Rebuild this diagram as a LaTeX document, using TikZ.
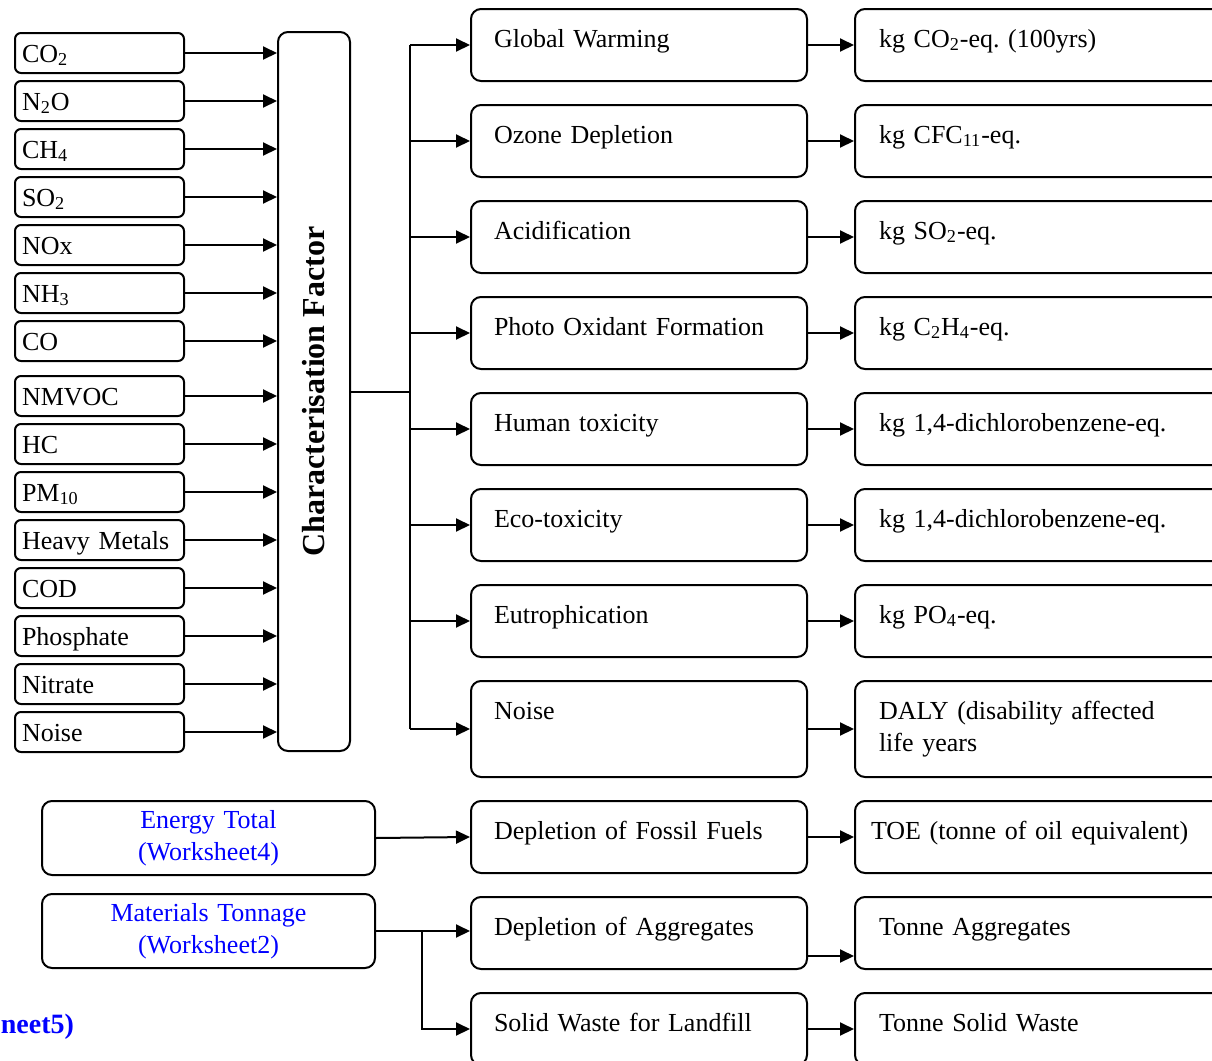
\documentclass[tikz,border=0pt]{standalone}
\usepackage{fontspec}
\setmainfont{Liberation Serif}
\usetikzlibrary{arrows.meta}
\frenchspacing
\begin{document}
\begin{tikzpicture}[
    x=0.5pt,y=-0.5pt,line width=1pt,
    every node/.style={font=\fontsize{13pt}{16pt}\selectfont},
    arr/.style={-{Triangle[length=7pt,width=6.5pt]}},
    gas/.style={draw,rounded corners=3pt,anchor=north west,
        text width=77.5pt,inner xsep=3.5pt,inner ysep=0pt,
        text height=14.5pt,text depth=5.5pt,align=left},
    impact/.style={draw,rounded corners=5pt,anchor=north west,
        text width=145pt,inner xsep=11.5pt,inner ysep=0pt,
        text height=19pt,text depth=17pt,align=left},
    unit/.style={impact,text width=165pt,inner xsep=12pt},
    source/.style={draw,rounded corners=5pt,anchor=north west,
        text width=160pt,inner xsep=3.25pt,minimum height=37pt,
        align=center,text=blue}]
    \useasboundingbox (0,0) rectangle (1212,1061);
    % characterisation box
    \node[draw,rounded corners=5pt,rotate=90,minimum width=359.5pt,
        minimum height=36pt,inner sep=0pt,
        font=\fontsize{16pt}{19pt}\selectfont\bfseries]
        (cf) at (314,391.5) {Characterisation Factor};
    % inventory items
    \foreach \nm/\txt/\y in {co2/CO\textsubscript{2}/32,
        n2o/N\textsubscript{2}O/80, ch4/CH\textsubscript{4}/128,
        so2/SO\textsubscript{2}/176, nox/NOx/224,
        nh3/NH\textsubscript{3}/272, co/CO/320, nmvoc/NMVOC/375,
        hc/HC/423, pm/PM\textsubscript{10}/471, metals/Heavy Metals/519,
        cod/COD/567, phos/Phosphate/615, nitr/Nitrate/663,
        noisein/Noise/711} {
        \node[gas] (\nm) at (14,\y) {\txt};
        \draw[arr] (\nm.east) -- (\nm.east -| cf.north);
    }
    % impact categories
    \node[impact] (gw) at (470,8) {Global Warming};
    \node[impact] (ozone) at (470,104) {Ozone Depletion};
    \node[impact] (acid) at (470,200) {Acidification};
    \node[impact] (photo) at (470,296) {Photo Oxidant Formation};
    \node[impact] (human) at (470,392) {Human toxicity};
    \node[impact] (eco) at (470,488) {Eco-toxicity};
    \node[impact] (eutro) at (470,584) {Eutrophication};
    \node[impact,text depth=29pt] (noise) at (470,680) {Noise};
    \node[impact] (fossil) at (470,800) {Depletion of Fossil Fuels};
    \node[impact] (aggr) at (470,896) {Depletion of Aggregates};
    \node[impact] (solid) at (470,992) {Solid Waste for Landfill};
    % units
    \node[unit] (gwu) at (854,8) {kg CO\textsubscript{2}-eq. (100yrs)};
    \node[unit] (ozoneu) at (854,104) {kg CFC\textsubscript{11}-eq.};
    \node[unit] (acidu) at (854,200) {kg SO\textsubscript{2}-eq.};
    \node[unit] (photou) at (854,296)
        {kg C\textsubscript{2}H\textsubscript{4}-eq.};
    \node[unit] (humanu) at (854,392) {kg 1,4-dichlorobenzene-eq.};
    \node[unit] (ecou) at (854,488) {kg 1,4-dichlorobenzene-eq.};
    \node[unit] (eutrou) at (854,584) {kg PO\textsubscript{4}-eq.};
    \node[unit,text depth=29pt] (noiseu) at (854,680)
        {DALY (disability affected\\life years};
    \node[unit,inner xsep=8pt,text width=173pt] (fossilu) at (854,800)
        {TOE (tonne of oil equivalent)};
    \node[unit] (aggru) at (854,896) {Tonne Aggregates};
    \node[unit] (solidu) at (854,992) {Tonne Solid Waste};
    % sources
    \node[source] (energy) at (41,800) {Energy Total\\(Worksheet4)};
    \node[source] (mat) at (41,893) {Materials Tonnage\\(Worksheet2)};
    \node[anchor=base east,text=blue,inner xsep=0pt,
        font=\fontsize{14pt}{17pt}\selectfont\bfseries]
        (ws5) at (75,1033) {neet5)};
    % connectors
    \coordinate (trunk) at (410,391.5);
    \draw (cf.south) -- (trunk);
    \draw (trunk |- gw.west) -- (trunk |- noise.west);
    \foreach \n in {gw,ozone,acid,photo,human,eco,eutro,noise} {
        \draw[arr] (trunk |- \n.west) -- (\n.west);
        \draw[arr] (\n.east) -- (\n u.west);
    }
    \draw[arr] (energy.east) -- (fossil.west);
    \draw[arr] (fossil.east) -- (fossilu.west);
    \coordinate (split) at (422,931);
    \draw (mat.east) -- (split);
    \draw[arr] (split) -- (split -| aggr.west);
    \draw[arr] (split) |- (solid.west);
    \draw[arr] ([yshift=-11.5pt]aggr.east) -- ([yshift=-11.5pt]aggru.west);
    \draw[arr] (solid.east) -- (solidu.west);
\end{tikzpicture}
\end{document}
